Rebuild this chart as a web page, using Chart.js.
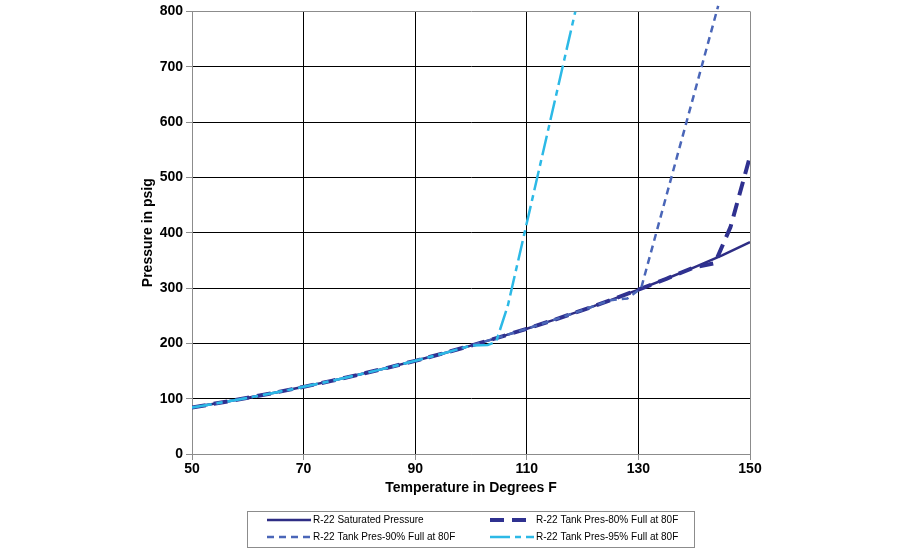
<!DOCTYPE html>
<html><head><meta charset="utf-8">
<script src="https://cdn.jsdelivr.net/npm/chart.js@4.4.1/dist/chart.umd.min.js"></script>
<style>html,body{margin:0;padding:0;background:#fff;}#wrap{width:900px;height:550px;position:relative;}</style>
</head><body><div id="wrap"><canvas id="c" width="900" height="550"></canvas></div>
<script>
// Saturated pressure curve (psig) vs temperature (F)
const satTemps    = [50,55,60,65,70,75,80,85,90,95,100,105,110,115,120,125,130,135,140,145,150];
const satPressure = [84.0,92.6,101.6,111.2,121.4,132.2,143.6,155.7,168.4,181.8,195.9,210.8,226.4,242.8,260.0,278.1,297.0,316.7,337.4,359.1,383.0];

// Tank 80% full at 80F
const tank80Temps    = [50,55,60,65,70,75,80,85,90,95,100,105,110,115,120,125,130,135,140,143.7,146.5,150];
const tank80Pressure = [84.0,92.6,101.6,111.2,121.4,132.2,143.6,155.7,168.4,181.8,195.9,210.8,226.4,242.8,260.0,278.1,297.0,316.7,337.4,345,410,538];

// Tank 90% full at 80F
const tank90Temps    = [50,55,60,65,70,75,80,85,90,95,100,105,110,115,120,125,128,130.5,144.3];
const tank90Pressure = [84.0,92.6,101.6,111.2,121.4,132.2,143.6,155.7,168.4,181.8,195.9,210.8,226.4,242.8,260.0,278.1,281,300,810];

// Tank 95% full at 80F
const tank95Temps    = [50,55,60,65,70,75,80,85,90,95,100,103,104.5,106.6,118.7];
const tank95Pressure = [84.0,92.6,101.6,111.2,121.4,132.2,143.6,155.7,168.4,181.8,195.9,197,203,268,800];

const seriesLabels = ['R-22 Saturated Pressure','R-22 Tank Pres-80% Full at 80F','R-22 Tank Pres-90% Full at 80F','R-22 Tank Pres-95% Full at 80F'];
const xTickValues = [50,70,90,110,130,150];
const yTickValues = [0,100,200,300,400,500,600,700,800];

const FONT = '"Liberation Sans", Arial, sans-serif';
const pts = (xs, ys) => xs.map((x, i) => ({x: x, y: ys[i]}));

const styles = [
  {color:'#2e2d84', width:2.5, dash:[]},
  {color:'#2f3190', width:4, dash:[14,8]},
  {color:'#4a66b8', width:2.5, dash:[7,5]},
  {color:'#2cb9e6', width:2.5, dash:[20,5,6,5]}
];

const legendPlugin = {
  id: 'boxLegend',
  afterDraw(chart) {
    const ctx = chart.ctx;
    ctx.save();
    ctx.strokeStyle = '#8c8c8c';
    ctx.lineWidth = 1;
    ctx.setLineDash([]);
    ctx.strokeRect(247.5, 511.5, 447, 36);
    const items = [
      {i:0, x:267, y:520}, {i:1, x:490, y:520},
      {i:2, x:267, y:537}, {i:3, x:490, y:537}
    ];
    ctx.font = '10px ' + FONT;
    ctx.textBaseline = 'middle';
    ctx.textAlign = 'left';
    items.forEach(it => {
      const s = styles[it.i];
      ctx.beginPath();
      ctx.strokeStyle = s.color;
      ctx.lineWidth = s.width;
      ctx.setLineDash(s.dash);
      ctx.moveTo(it.x, it.y);
      ctx.lineTo(it.x + 44, it.y);
      ctx.stroke();
      ctx.setLineDash([]);
      ctx.fillStyle = '#000';
      ctx.fillText(seriesLabels[it.i], it.x + 46, it.y + 0.5);
    });
    ctx.restore();
  }
};

const lists = [[satTemps, satPressure],[tank80Temps, tank80Pressure],[tank90Temps, tank90Pressure],[tank95Temps, tank95Pressure]];
const datasets = lists.map((l, i) => ({
  label: seriesLabels[i],
  data: pts(l[0], l[1]),
  borderColor: styles[i].color,
  backgroundColor: styles[i].color,
  borderWidth: styles[i].width,
  borderDash: styles[i].dash,
  borderCapStyle: 'butt',
  pointRadius: 0,
  tension: 0,
  fill: false,
  order: 3 - i,
  clip: i === 2 ? {left:0, top:10, right:0, bottom:0} : 0
}));

const gridColor = (edgeVals) => (c) => (c.tick && edgeVals.includes(c.tick.value)) ? '#8c8c8c' : '#000000';

new Chart(document.getElementById('c'), {
  type: 'line',
  data: { datasets },
  plugins: [legendPlugin],
  options: {
    responsive: false,
    animation: false,
    events: [],
    layout: { padding: { left: 136, right: 150, top: 9, bottom: 48 } },
    plugins: { legend: { display: false }, tooltip: { enabled: false } },
    scales: {
      x: {
        type: 'linear', min: 50, max: 150,
        afterBuildTicks: (s) => { s.ticks = xTickValues.map(v => ({value: v})); },
        afterFit: (s) => { s.height = 48; },
        ticks: { color: '#000', font: { family: FONT, size: 14, weight: 'bold' }, padding: 1, maxRotation: 0 },
        grid: { color: gridColor([50,150]), lineWidth: 1, tickLength: 6, tickColor: '#8c8c8c', drawTicks: true },
        border: { color: '#8c8c8c', width: 1 },
        title: { display: true, text: 'Temperature in Degrees F', color: '#000', font: { family: FONT, size: 14, weight: 'bold' }, padding: { top: 0, bottom: 5 } }
      },
      y: {
        type: 'linear', min: 0, max: 800,
        afterBuildTicks: (s) => { s.ticks = yTickValues.map(v => ({value: v})); },
        afterFit: (s) => { s.width = 56; },
        ticks: { color: '#000', font: { family: FONT, size: 14, weight: 'bold' }, padding: 3 },
        grid: { color: gridColor([0,800]), lineWidth: 1, tickLength: 6, tickColor: '#8c8c8c', drawTicks: true },
        border: { color: '#8c8c8c', width: 1 },
        title: { display: true, text: 'Pressure in psig', color: '#000', font: { family: FONT, size: 14, weight: 'bold' }, padding: { top: 4, bottom: 4 } }
      }
    }
  }
});
</script>
</body></html>
